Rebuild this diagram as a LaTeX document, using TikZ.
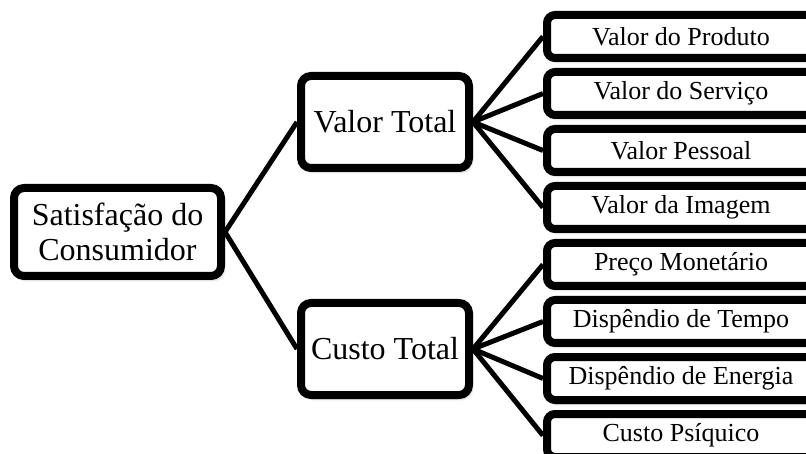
\documentclass[tikz,border=0pt]{standalone}
\usepackage{fontspec}
\setmainfont{Liberation Serif}
\usetikzlibrary{shadows.blur,backgrounds}
\tikzset{
  box/.style={draw=black, line width=8pt, fill=white, rounded corners=10pt,
    inner sep=0pt, align=center,
    blur shadow={shadow xshift=2pt, shadow yshift=-3pt, shadow blur steps=6, shadow opacity=45, shadow blur radius=3pt}},
  bigbox/.style={box, font=\fontsize{32}{35}\selectfont},
  leafbox/.style={box, rounded corners=8pt, minimum width=268pt, minimum height=43pt, font=\fontsize{26}{28}\selectfont},
  conn/.style={line width=5pt, black}
}
\begin{document}
\begin{tikzpicture}[x=1pt,y=1pt]
\useasboundingbox (0,0) rectangle (806,-454);
\node[bigbox, minimum width=207pt, minimum height=88pt] (root) at (117.5,-232) {Satisfação do\\Consumidor};
\node[bigbox, minimum width=168pt, minimum height=92pt] (vt) at (385,-122) {Valor Total};
\node[bigbox, minimum width=168pt, minimum height=92pt] (ct) at (385,-349) {Custo Total};
\node[leafbox] (l1) at (681,-36.5) {Valor do Produto};
\node[leafbox] (l2) at (681,-93.5) {Valor do Serviço};
\node[leafbox] (l3) at (681,-150.5) {Valor Pessoal};
\node[leafbox] (l4) at (681,-207.5) {Valor da Imagem};
\node[leafbox] (l5) at (681,-264.5) {Preço Monetário};
\node[leafbox] (l6) at (681,-321.5) {Dispêndio de Tempo};
\node[leafbox] (l7) at (681,-378.5) {Dispêndio de Energia};
\node[leafbox] (l8) at (681,-435.5) {Custo Psíquico};
\begin{scope}[on background layer]
\draw[conn] (root.east) -- (vt.west);
\draw[conn] (root.east) -- (ct.west);
\foreach \i in {1,2,3,4} \draw[conn] (vt.east) -- (l\i.west);
\foreach \i in {5,6,7,8} \draw[conn] (ct.east) -- (l\i.west);
\end{scope}
\end{tikzpicture}
\end{document}
